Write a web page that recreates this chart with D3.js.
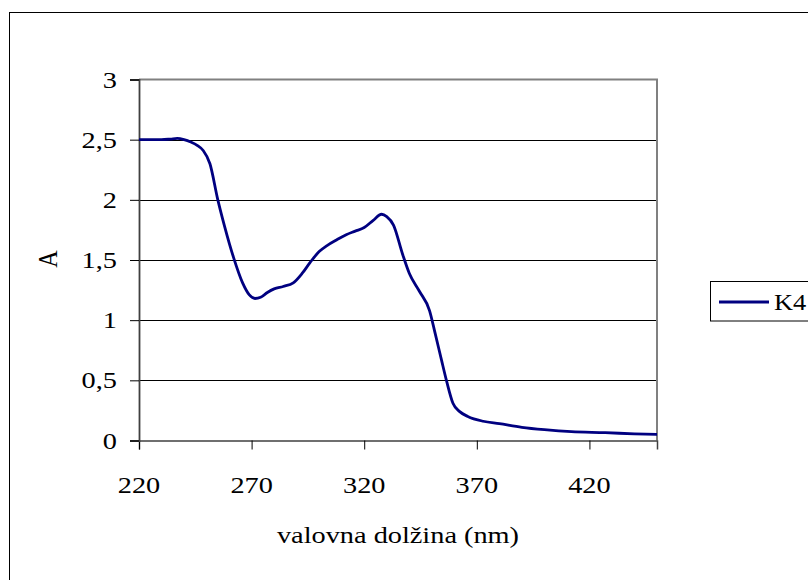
<!DOCTYPE html>
<html>
<head>
<meta charset="utf-8">
<script src="https://cdn.jsdelivr.net/npm/d3@7/dist/d3.min.js"></script>
<style>
  html, body { margin: 0; padding: 0; background: #fff; }
  svg { display: block; }
  text { font-family: "Liberation Serif", "Times New Roman", serif; fill: #000; }
</style>
</head>
<body>
<svg id="chart" width="808" height="580"></svg>
<script>
// Absorption spectrum of sample K4
const wavelength = [220, 225, 230, 234, 237, 240, 243, 246, 248.5, 251.5, 255, 258, 262, 266, 269, 271.5,
  274, 277, 280, 284, 288.5, 292.5, 296, 300, 303.5, 308, 312, 316, 320, 324, 327.7, 330, 333, 337, 340,
  344.5, 349, 351.5, 354.3, 356.5, 359.4, 362.4, 366, 372.8, 380, 390, 400, 412, 427, 440, 450];
const absorbance = [2.50, 2.50, 2.50, 2.505, 2.51, 2.50, 2.48, 2.45, 2.41, 2.30, 2.00, 1.78, 1.52, 1.31, 1.21, 1.18,
  1.19, 1.23, 1.26, 1.28, 1.31, 1.39, 1.48, 1.57, 1.62, 1.67, 1.71, 1.74, 1.77, 1.83, 1.88, 1.86, 1.79, 1.55, 1.39,
  1.24, 1.08, 0.89, 0.67, 0.50, 0.31, 0.24, 0.20, 0.16, 0.14, 0.11, 0.09, 0.073, 0.065, 0.055, 0.05];
const xTicks = [220, 270, 320, 370, 420];
const yTicks = [0, 0.5, 1, 1.5, 2, 2.5, 3];
const seriesName = "K4";
const xTitle = "valovna dolžina (nm)";
const yTitle = "A";

const svg = d3.select("#chart");
const plot = { left: 139, right: 657, top: 79.5, bottom: 440.5 };
const fontSize = 24;
const stretch = 1.18; // text is drawn slightly wide

const x = d3.scaleLinear().domain([220, 450]).range([plot.left, plot.right]);
const y = d3.scaleLinear().domain([0, 3]).range([plot.bottom, plot.top]);
const fmt = v => String(v).replace(".", ",");

// outer chart frame
svg.append("rect").attr("x", 9.5).attr("y", 12.5).attr("width", 830).attr("height", 600)
  .attr("fill", "none").attr("stroke", "#000").attr("stroke-width", 1);

// horizontal gridlines
svg.append("g").selectAll("line").data(yTicks.filter(d => d > 0 && d < 3)).join("line")
  .attr("x1", plot.left).attr("x2", plot.right)
  .attr("y1", d => Math.round(y(d)) + 0.5).attr("y2", d => Math.round(y(d)) + 0.5)
  .attr("stroke", "#000").attr("stroke-width", 1);

// top and right plot border
svg.append("path")
  .attr("d", `M${plot.left},${plot.top}H${plot.right}V${plot.bottom}`)
  .attr("fill", "none").attr("stroke", "#808080").attr("stroke-width", 2);

// axes
const xAxis = d3.axisBottom(x).tickValues(xTicks).tickSize(9).tickFormat("");
const yAxis = d3.axisLeft(y).tickValues(yTicks).tickSize(9).tickFormat("");
const gx = svg.append("g").attr("transform", `translate(0,${plot.bottom})`).call(xAxis);
const gy = svg.append("g").attr("transform", `translate(${plot.left},0)`).call(yAxis);
gx.select(".domain").attr("stroke", "#404040").attr("stroke-width", 1.5);
gy.select(".domain").attr("stroke", "#404040").attr("stroke-width", 1.8);
gx.selectAll(".tick line").attr("stroke", "#000");
gy.selectAll(".tick line").attr("stroke", "#000");

// text helper: horizontally widened labels
function label(g, tx, ty, str, anchor, sx = stretch) {
  g.append("text").attr("transform", `translate(${tx},${ty}) scale(${sx},1)`)
    .attr("text-anchor", anchor).attr("font-size", fontSize).text(str);
}
const labels = svg.append("g");
xTicks.forEach(t => label(labels, x(t), 493, fmt(t), "middle"));
yTicks.forEach(t => label(labels, 117, y(t) + 8, fmt(t), "end"));

// axis titles
label(labels, (plot.left + plot.right) / 2, 543, xTitle, "middle");
labels.append("text")
  .attr("transform", `translate(57,259) scale(${stretch},1) rotate(-90)`)
  .attr("text-anchor", "middle").attr("font-size", fontSize).text(yTitle);

// spectrum line
const line = d3.line().x((d, i) => x(wavelength[i])).y(d => y(d)).curve(d3.curveMonotoneX);
svg.append("path").datum(absorbance).attr("d", line)
  .attr("fill", "none").attr("stroke", "#000080").attr("stroke-width", 2.8)
  .attr("stroke-linejoin", "round");

// legend
const lg = svg.append("g");
lg.append("rect").attr("x", 710.5).attr("y", 281.5).attr("width", 120).attr("height", 39.5)
  .attr("fill", "#fff").attr("stroke", "#000").attr("stroke-width", 1);
lg.append("line").attr("x1", 719).attr("x2", 769).attr("y1", 302).attr("y2", 302)
  .attr("stroke", "#000080").attr("stroke-width", 2.8);
label(lg, 774, 310, seriesName, "start", 1.1);
</script>
</body>
</html>
